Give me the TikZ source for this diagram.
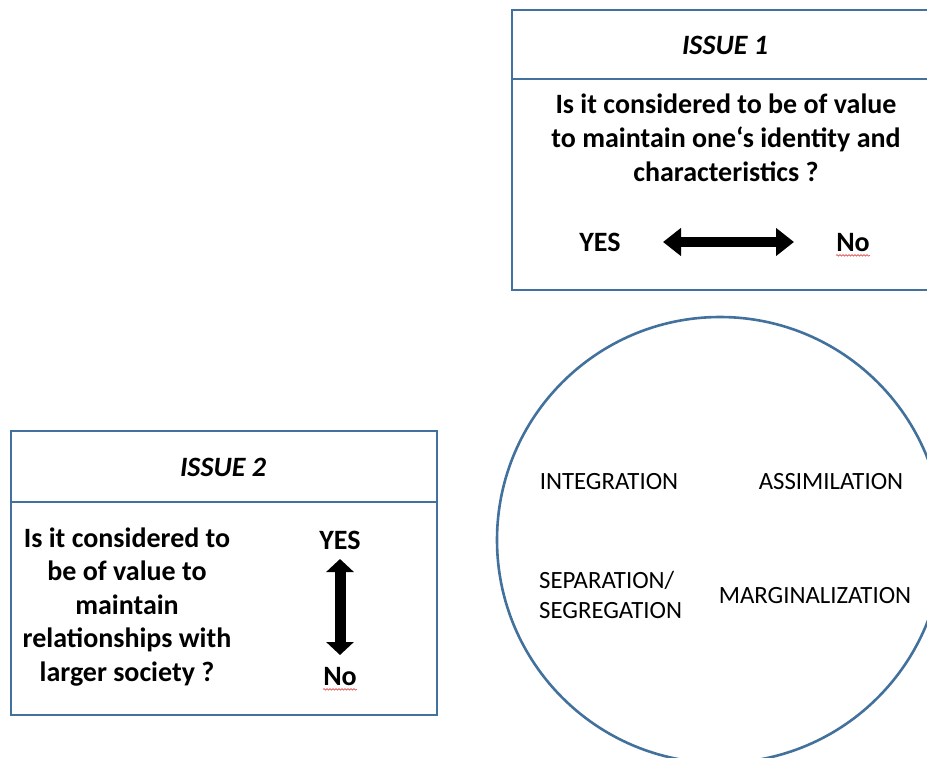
\documentclass[tikz,border=0pt]{standalone}
\usepackage{fontspec}
\setmainfont{Carlito}
\usetikzlibrary{arrows.meta,decorations.pathmorphing}
\definecolor{frameblue}{HTML}{41719C}
\definecolor{squig}{HTML}{E05050}
\begin{document}
\begin{tikzpicture}[x=1pt,y=-1pt,
  frame/.style={draw=frameblue,line width=2.6pt},
  title/.style={font=\fontsize{28}{30}\selectfont\bfseries\itshape,inner sep=0pt},
  body/.style={font=\fontsize{28}{34}\selectfont\bfseries,align=center,inner sep=0pt},
  lab/.style={font=\fontsize{28}{30}\selectfont\bfseries,inner sep=0pt},
  cat/.style={font=\fontsize{24.8}{30}\selectfont,inner sep=0pt},
  blockarrow/.style={line width=10pt,{Triangle[length=18pt,width=27pt]}-{Triangle[length=18pt,width=27pt]}},
  spell/.style={draw=squig,line width=0.7pt,decorate,decoration={snake,amplitude=0.8pt,segment length=3pt}}
]
\useasboundingbox (0,0) rectangle (927,758);
% Issue 1 box
\draw[frame] (512,10) rectangle (940,290);
\draw[frame] (512,79) -- (940,79);
\node[title] (t1) at (725,45) {ISSUE 1};
\node[body] (q1) at (726,138) {Is it considered to be of value\\to maintain one‘s identity and\\characteristics ?};
\node[lab] (yes1) at (600,242) {YES};
\node[lab] (no1) at (853,243) {No};
\coordinate (a1l) at (663,242);
\coordinate (a1r) at (794,242);
\draw[blockarrow] (a1l) -- (a1r);
\draw[spell] ([yshift=-3pt]no1.south west) -- ([yshift=-3pt]no1.south east);
% Issue 2 box
\draw[frame] (11,431) rectangle (437,715);
\draw[frame] (11,502) -- (437,502);
\node[title] (t2) at (223,467) {ISSUE 2};
\node[body,font=\fontsize{28}{33.5}\selectfont\bfseries] (q2) at (127,607) {Is it considered to\\be of value to\\maintain\\relationships with\\larger society ?};
\node[lab] (yes2) at (340,540) {YES};
\node[lab] (no2) at (340,677) {No};
\coordinate (a2t) at (340,559);
\coordinate (a2b) at (340,655);
\draw[line width=11pt,{Triangle[length=13pt,width=27pt]}-{Triangle[length=13pt,width=27pt]}] (a2t) -- (a2b);
\draw[spell] ([yshift=-3pt]no2.south west) -- ([yshift=-3pt]no2.south east);
% circle
\node[frame,circle,minimum size=446pt,inner sep=0pt] (c) at (720,540) {};
\node[cat] (int) at (609,482) {INTEGRATION};
\node[cat] (ass) at (831,482) {ASSIMILATION};
\node[cat,align=left,anchor=west,font=\fontsize{24.8}{30}\selectfont] (sep) at (539,595) {SEPARATION/\\SEGREGATION};
\node[cat] (mar) at (815,596) {MARGINALIZATION};
\end{tikzpicture}
\end{document}
